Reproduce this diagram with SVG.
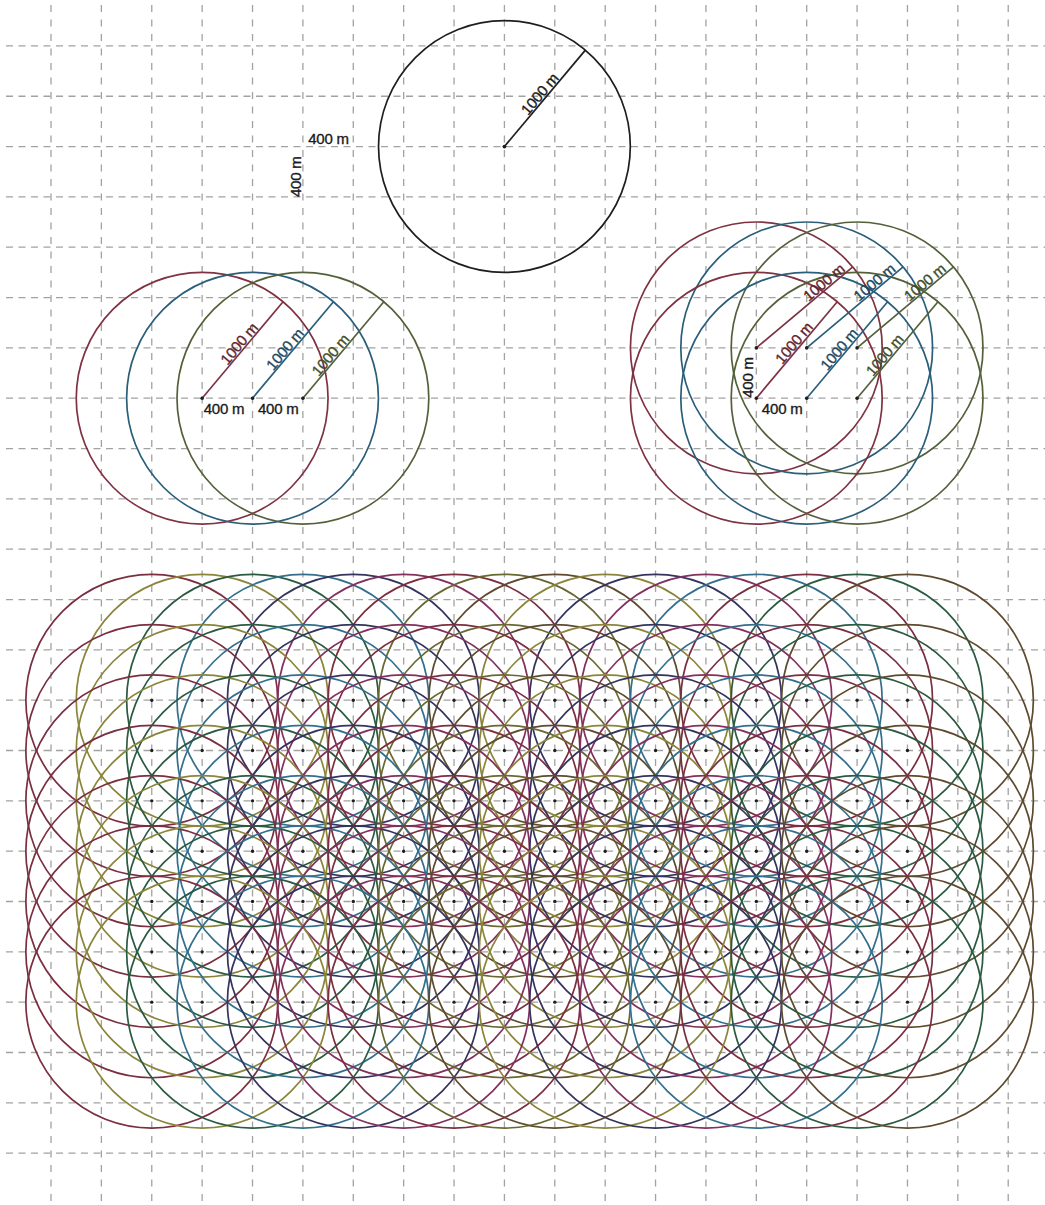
<svg xmlns="http://www.w3.org/2000/svg" xmlns:xlink="http://www.w3.org/1999/xlink" width="1045" height="1205" viewBox="0 0 1045 1205">
<style>
.gh{fill:none;stroke:#a2a2a2;stroke-width:1.3;stroke-dasharray:7 5.5}
.gv{fill:none;stroke:#a2a2a2;stroke-width:1.3;stroke-dasharray:7 7.5}
.ring{fill:none;stroke-width:1.7}
.rad{stroke-width:1.7;fill:none}
.k{stroke:#1e1e1e}
.r{stroke:#7e3242}
.b{stroke:#2a5e7a}
.g{stroke:#53603a}
.tk{fill:#1a1a1a;stroke:#1a1a1a}
.tr{fill:#62252f;stroke:#62252f}
.tb{fill:#1f4860;stroke:#1f4860}
.tg{fill:#434e28;stroke:#434e28}
text{font-family:"Liberation Sans",Arial,sans-serif;font-size:15px;stroke-width:0.35;letter-spacing:-0.2px}
.m{text-anchor:middle}
.dot{fill:#1e1e1e}
.p0{stroke:#7a2e40}.p1{stroke:#8a853a}.p2{stroke:#2a5a40}.p3{stroke:#336f8c}
.p4{stroke:#33335e}.p5{stroke:#82305e}.p7{stroke:#6a6832}.p8{stroke:#5e4a2e}
</style>
<defs>
<g id="prow" class="ring">
<circle class="p0" cx="151.76" cy="0" r="125.9"/>
<circle class="p1" cx="202.14" cy="0" r="125.9"/>
<circle class="p2" cx="252.52" cy="0" r="125.9"/>
<circle class="p3" cx="302.9" cy="0" r="125.9"/>
<circle class="p4" cx="353.28" cy="0" r="125.9"/>
<circle class="p5" cx="403.66" cy="0" r="125.9"/>
<circle class="p0" cx="454.04" cy="0" r="125.9"/>
<circle class="p7" cx="504.42" cy="0" r="125.9"/>
<circle class="p8" cx="554.8" cy="0" r="125.9"/>
<circle class="p1" cx="605.18" cy="0" r="125.9"/>
<circle class="p4" cx="655.56" cy="0" r="125.9"/>
<circle class="p5" cx="705.94" cy="0" r="125.9"/>
<circle class="p3" cx="756.32" cy="0" r="125.9"/>
<circle class="p0" cx="806.7" cy="0" r="125.9"/>
<circle class="p2" cx="857.08" cy="0" r="125.9"/>
<circle class="p8" cx="907.46" cy="0" r="125.9"/>
</g>
<g id="pdots" class="dot">
<circle cx="151.76" cy="0" r="1.7"/><circle cx="202.14" cy="0" r="1.7"/><circle cx="252.52" cy="0" r="1.7"/><circle cx="302.9" cy="0" r="1.7"/>
<circle cx="353.28" cy="0" r="1.7"/><circle cx="403.66" cy="0" r="1.7"/><circle cx="454.04" cy="0" r="1.7"/><circle cx="504.42" cy="0" r="1.7"/>
<circle cx="554.8" cy="0" r="1.7"/><circle cx="605.18" cy="0" r="1.7"/><circle cx="655.56" cy="0" r="1.7"/><circle cx="705.94" cy="0" r="1.7"/>
<circle cx="756.32" cy="0" r="1.7"/><circle cx="806.7" cy="0" r="1.7"/><circle cx="857.08" cy="0" r="1.7"/><circle cx="907.46" cy="0" r="1.7"/>
</g>
</defs>
<rect width="1045" height="1205" fill="#ffffff"/>
<g id="grid">
<path class="gv" d="M51 5V1205M101.38 5V1205M151.76 5V1205M202.14 5V1205M252.52 5V1205M302.9 5V1205M353.28 5V1205M403.66 5V1205M454.04 5V1205M504.42 5V1205M554.8 5V1205M605.18 5V1205M655.56 5V1205M705.94 5V1205M756.32 5V1205M806.7 5V1205M857.08 5V1205M907.46 5V1205M957.84 5V1205M1008.22 5V1205"/>
<path class="gh" d="M6 45.9H1045M6 96.23H1045M6 146.56H1045M6 196.89H1045M6 247.22H1045M6 297.55H1045M6 347.88H1045M6 398.21H1045M6 448.54H1045M6 498.87H1045M6 549.2H1045M6 599.53H1045M6 649.86H1045M6 700.19H1045M6 750.52H1045M6 800.85H1045M6 851.18H1045M6 901.51H1045M6 951.84H1045M6 1002.17H1045M6 1052.5H1045M6 1102.83H1045M6 1153.16H1045"/>
</g>
<g id="scale-legend">
<text class="tk m" x="328.5" y="144">400 m</text>
<text class="tk m" transform="translate(300.5,176.7) rotate(-90)">400 m</text>
</g>
<g id="single-circle">
<circle class="ring k" cx="504.42" cy="146.56" r="125.9" stroke-width="1.8"/>
<line class="rad k" x1="504.42" y1="146.56" x2="585.35" y2="50.12"/>
<circle class="dot" cx="504.42" cy="146.56" r="1.9"/>
<text class="tk m" transform="translate(544.9,98.3) rotate(-50)" y="-1.5">1000 m</text>
</g>
<g id="row-of-three">
<circle class="ring r" cx="202.14" cy="398.21" r="125.9"/>
<circle class="ring b" cx="252.52" cy="398.21" r="125.9"/>
<circle class="ring g" cx="302.9" cy="398.21" r="125.9"/>
<line class="rad r" x1="202.14" y1="398.21" x2="283.07" y2="301.77"/>
<line class="rad b" x1="252.52" y1="398.21" x2="333.45" y2="301.77"/>
<line class="rad g" x1="302.9" y1="398.21" x2="383.83" y2="301.77"/>
<circle class="dot" cx="202.14" cy="398.21" r="1.8"/>
<circle class="dot" cx="252.52" cy="398.21" r="1.8"/>
<circle class="dot" cx="302.9" cy="398.21" r="1.8"/>
<text class="tr m" transform="translate(244.24,348.04) rotate(-50)" y="-1.5">1000 m</text>
<text class="tb m" transform="translate(290.12,353.4) rotate(-50)" y="-1.5">1000 m</text>
<text class="tg m" transform="translate(335.68,359.14) rotate(-50)" y="-1.5">1000 m</text>
<text class="tk m" x="224" y="414">400 m</text>
<text class="tk m" x="278.3" y="414">400 m</text>
</g>
<g id="grid-of-six">
<circle class="ring r" cx="756.32" cy="347.88" r="125.9"/>
<circle class="ring b" cx="806.7" cy="347.88" r="125.9"/>
<circle class="ring g" cx="857.08" cy="347.88" r="125.9"/>
<circle class="ring r" cx="756.32" cy="398.21" r="125.9"/>
<circle class="ring b" cx="806.7" cy="398.21" r="125.9"/>
<circle class="ring g" cx="857.08" cy="398.21" r="125.9"/>
<line class="rad r" x1="756.32" y1="347.88" x2="852.76" y2="266.95"/>
<line class="rad b" x1="806.7" y1="347.88" x2="903.14" y2="266.95"/>
<line class="rad g" x1="857.08" y1="347.88" x2="953.52" y2="266.95"/>
<line class="rad r" x1="756.32" y1="398.21" x2="837.25" y2="301.77"/>
<line class="rad b" x1="806.7" y1="398.21" x2="887.63" y2="301.77"/>
<line class="rad g" x1="857.08" y1="398.21" x2="938.01" y2="301.77"/>
<circle class="dot" cx="756.32" cy="347.88" r="1.8"/>
<circle class="dot" cx="806.7" cy="347.88" r="1.8"/>
<circle class="dot" cx="857.08" cy="347.88" r="1.8"/>
<circle class="dot" cx="756.32" cy="398.21" r="1.8"/>
<circle class="dot" cx="806.7" cy="398.21" r="1.8"/>
<circle class="dot" cx="857.08" cy="398.21" r="1.8"/>
<text class="tr m" transform="translate(828.3,287.5) rotate(-40)" y="-1.5">1000 m</text>
<text class="tb m" transform="translate(878.7,287.5) rotate(-40)" y="-1.5">1000 m</text>
<text class="tg m" transform="translate(929.1,287.5) rotate(-40)" y="-1.5">1000 m</text>
<text class="tr m" transform="translate(799.13,347.19) rotate(-50)" y="-1.5">1000 m</text>
<text class="tb m" transform="translate(844.3,353.4) rotate(-50)" y="-1.5">1000 m</text>
<text class="tg m" transform="translate(889.86,359.14) rotate(-50)" y="-1.5">1000 m</text>
<text class="tk m" x="782.2" y="414">400 m</text>
<text class="tk m" transform="translate(752.5,377.5) rotate(-90)">400 m</text>
</g>
<g id="pattern">
<use xlink:href="#prow" href="#prow" transform="translate(0,700.19)"/>
<use xlink:href="#prow" href="#prow" transform="translate(0,750.52)"/>
<use xlink:href="#prow" href="#prow" transform="translate(0,800.85)"/>
<use xlink:href="#prow" href="#prow" transform="translate(0,851.18)"/>
<use xlink:href="#prow" href="#prow" transform="translate(0,901.51)"/>
<use xlink:href="#prow" href="#prow" transform="translate(0,951.84)"/>
<use xlink:href="#prow" href="#prow" transform="translate(0,1002.17)"/>
<use xlink:href="#pdots" href="#pdots" transform="translate(0,700.19)"/>
<use xlink:href="#pdots" href="#pdots" transform="translate(0,750.52)"/>
<use xlink:href="#pdots" href="#pdots" transform="translate(0,800.85)"/>
<use xlink:href="#pdots" href="#pdots" transform="translate(0,851.18)"/>
<use xlink:href="#pdots" href="#pdots" transform="translate(0,901.51)"/>
<use xlink:href="#pdots" href="#pdots" transform="translate(0,951.84)"/>
<use xlink:href="#pdots" href="#pdots" transform="translate(0,1002.17)"/>
</g>
</svg>
